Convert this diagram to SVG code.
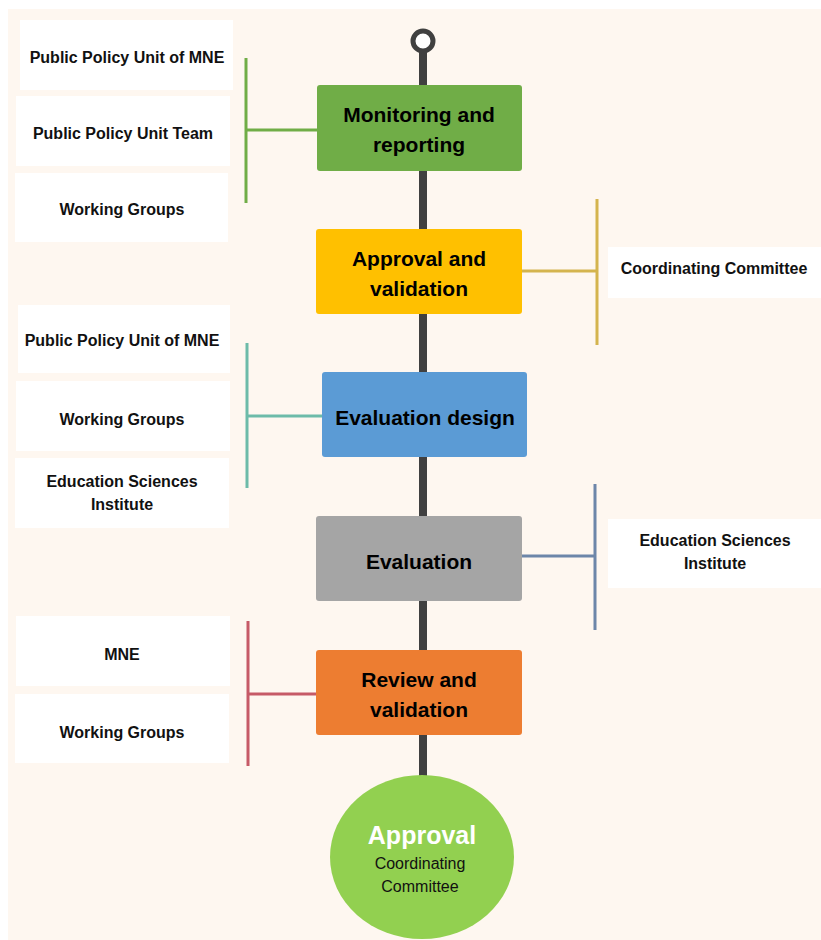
<svg xmlns="http://www.w3.org/2000/svg" width="821" height="940" viewBox="0 0 821 940">
  <style>
    .step text { font-family: "Liberation Sans", Arial, sans-serif; font-weight: bold; font-size: 21px; fill: #000; text-anchor: middle; }
    .label rect { fill: #FFFFFF; }
    .label text { font-family: "Liberation Sans", Arial, sans-serif; font-weight: bold; font-size: 16px; fill: #111; text-anchor: middle; }
    .bracket { fill: none; stroke-width: 3; }
  </style>

  <!-- page -->
  <rect x="0" y="0" width="821" height="940" fill="#FFFFFF"/>
  <rect x="8" y="9" width="813" height="931" fill="#FEF7F0"/>

  <!-- spine and top ring -->
  <g id="spine">
    <line x1="423" y1="51" x2="423" y2="778" stroke="#404040" stroke-width="8"/>
    <circle cx="423" cy="41" r="10" fill="#FFFFFF" stroke="#404040" stroke-width="5"/>
  </g>

  <!-- connectors between steps and responsible bodies -->
  <g id="connectors">
    <path class="bracket" stroke="#70AD47" d="M246 58 V203 M246 130 H317"/>
    <path class="bracket" stroke="#D4B44E" d="M597 199 V345 M522 271 H597"/>
    <path class="bracket" stroke="#6DBBA9" d="M247 343 V488 M247 416 H322"/>
    <path class="bracket" stroke="#6D86A9" d="M595 484 V630 M522 556 H595"/>
    <path class="bracket" stroke="#C65A67" d="M248 621 V766 M248 694 H317"/>
  </g>

  <!-- steps -->
  <g id="step-monitoring" class="step">
    <rect x="317" y="85" width="205" height="86" rx="3" fill="#70AD47"/>
    <text x="419" y="122">Monitoring and</text>
    <text x="419" y="152">reporting</text>
  </g>
  <g id="step-approval-validation" class="step">
    <rect x="316" y="229" width="206" height="85" rx="3" fill="#FFC000"/>
    <text x="419" y="266">Approval and</text>
    <text x="419" y="296">validation</text>
  </g>
  <g id="step-evaluation-design" class="step">
    <rect x="322" y="372" width="205" height="85" rx="3" fill="#5B9BD5"/>
    <text x="425" y="425">Evaluation design</text>
  </g>
  <g id="step-evaluation" class="step">
    <rect x="316" y="516" width="206" height="85" rx="3" fill="#A5A5A5"/>
    <text x="419" y="569">Evaluation</text>
  </g>
  <g id="step-review" class="step">
    <rect x="316" y="650" width="206" height="85" rx="3" fill="#ED7D31"/>
    <text x="419" y="687">Review and</text>
    <text x="419" y="717">validation</text>
  </g>
  <g id="step-final-approval">
    <ellipse cx="422" cy="857" rx="92" ry="82" fill="#92D050"/>
    <text x="422" y="844" font-family="Liberation Sans, Arial, sans-serif" font-weight="bold" font-size="25" fill="#FFFFFF" text-anchor="middle">Approval</text>
    <text x="420" y="869" font-family="Liberation Sans, Arial, sans-serif" font-size="16" fill="#111" text-anchor="middle">Coordinating</text>
    <text x="420" y="892" font-family="Liberation Sans, Arial, sans-serif" font-size="16" fill="#111" text-anchor="middle">Committee</text>
  </g>

  <!-- responsible bodies -->
  <g id="label-ppu-mne-1" class="label">
    <rect x="20" y="20" width="213" height="70"/>
    <text x="127" y="63">Public Policy Unit of MNE</text>
  </g>
  <g id="label-ppu-team" class="label">
    <rect x="16" y="96" width="214" height="70"/>
    <text x="123" y="139">Public Policy Unit Team</text>
  </g>
  <g id="label-working-groups-1" class="label">
    <rect x="15" y="173" width="213" height="69"/>
    <text x="122" y="215">Working Groups</text>
  </g>
  <g id="label-coordinating-committee" class="label">
    <rect x="608" y="247" width="213" height="51"/>
    <text x="714" y="274">Coordinating Committee</text>
  </g>
  <g id="label-ppu-mne-2" class="label">
    <rect x="18" y="305" width="212" height="68"/>
    <text x="122" y="346">Public Policy Unit of MNE</text>
  </g>
  <g id="label-working-groups-2" class="label">
    <rect x="16" y="381" width="214" height="70"/>
    <text x="122" y="425">Working Groups</text>
  </g>
  <g id="label-esi-1" class="label">
    <rect x="15" y="458" width="214" height="70"/>
    <text x="122" y="487">Education Sciences</text>
    <text x="122" y="510">Institute</text>
  </g>
  <g id="label-esi-2" class="label">
    <rect x="608" y="519" width="213" height="69"/>
    <text x="715" y="546">Education Sciences</text>
    <text x="715" y="569">Institute</text>
  </g>
  <g id="label-mne" class="label">
    <rect x="16" y="616" width="214" height="70"/>
    <text x="122" y="660">MNE</text>
  </g>
  <g id="label-working-groups-3" class="label">
    <rect x="15" y="694" width="214" height="69"/>
    <text x="122" y="738">Working Groups</text>
  </g>
</svg>
